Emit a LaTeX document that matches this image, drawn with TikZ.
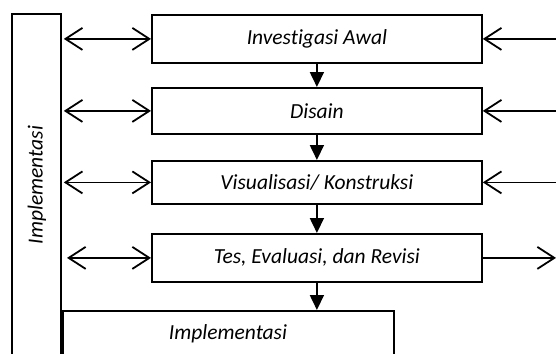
\documentclass[tikz,border=0pt]{standalone}
\usepackage{fontspec}
\setmainfont[Ligatures=NoCommon]{Carlito}
\usetikzlibrary{arrows.meta}
\begin{document}
\begin{tikzpicture}[x=1pt,y=-1pt,
  txt/.style={font=\itshape\fontsize{21.5}{24}\selectfont},
  box/.style={draw,line width=1.8pt,inner sep=0pt,txt},
  open/.style={line width=1.8pt,{Straight Barb[length=17pt,width=22pt,line width=1.8pt]}-{Straight Barb[length=17pt,width=22pt,line width=1.8pt]}},
  openR/.style={line width=1.8pt,-{Straight Barb[length=17pt,width=22pt,line width=1.8pt]}},
  down/.style={line width=1.8pt,-{Triangle[length=15pt,width=14pt]}}]
\useasboundingbox (0,0) rectangle (556,353);
\begin{scope}
\clip (0,0) rectangle (556,353);
\node[box,minimum width=49pt,minimum height=360pt,anchor=north west] (imp) at (11,13) {};
\node[txt,rotate=90] (impt) at (37,185) {Implementasi};
\node[box,minimum width=330pt,minimum height=48pt,anchor=north west] (b1) at (151,14) {Investigasi Awal};
\node[box,minimum width=330pt,minimum height=46pt,anchor=north west] (b2) at (151,87) {Disain};
\node[box,minimum width=330pt,minimum height=43pt,anchor=north west] (b3) at (151,160) {Visualisasi/ Konstruksi};
\node[box,minimum width=330pt,minimum height=48pt,anchor=north west] (b4) at (151,233) {Tes, Evaluasi, dan Revisi};
\node[box,minimum width=331pt,minimum height=50pt,anchor=north west] (b5) at (62,310) {};
\node[txt] (b5t) at (228,334) {Implementasi};
\end{scope}
\coordinate (l1) at (imp.east |- b1.west);
\coordinate (l2) at (imp.east |- b2.west);
\coordinate (l3) at (imp.east |- b3.west);
\coordinate (l4) at (67,0 |- b4.west);
\coordinate (r1) at (556,0 |- b1.east);
\coordinate (r2) at (556,0 |- b2.east);
\coordinate (r3) at (556,0 |- b3.east);
\coordinate (r4) at (556,0 |- b4.east);
\draw[open] ([xshift=2pt]l1) -- (b1.west);
\draw[open] ([xshift=2pt]l2) -- (b2.west);
\draw[open] ([xshift=2pt]l3) -- (b3.west);
\draw[open] (l4) -- (b4.west);
\draw[openR] (r1) -- (b1.east);
\draw[openR] (r2) -- (b2.east);
\draw[openR] (r3) -- (b3.east);
\draw[openR] (b4.east) -- (r4);
\draw[down] (b1.south) -- (b2.north);
\draw[down] (b2.south) -- (b3.north);
\draw[down] (b3.south) -- (b4.north);
\draw[down] (b4.south) -- (b4.south |- b5.north);
\end{tikzpicture}
\end{document}
